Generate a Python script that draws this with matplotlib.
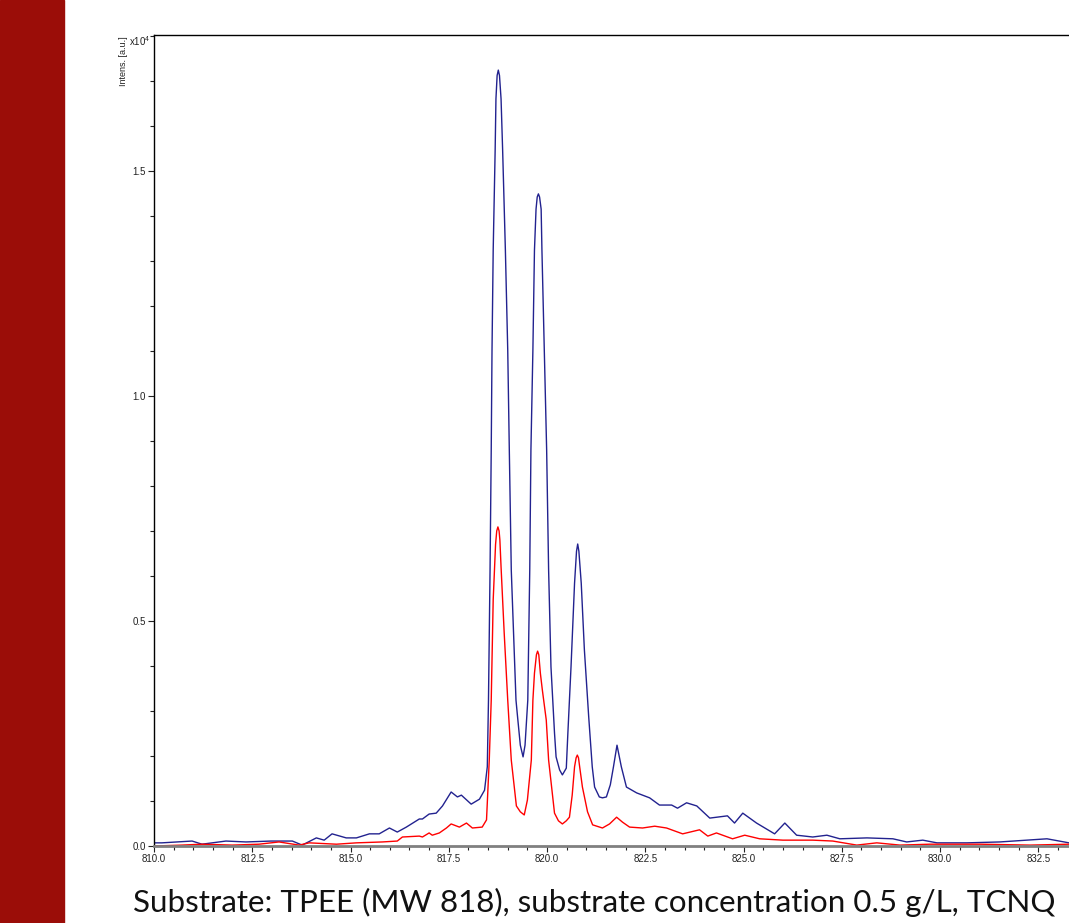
import matplotlib
matplotlib.use('Agg')
import matplotlib.pyplot as plt
from matplotlib.patches import Rectangle
from matplotlib.ticker import MultipleLocator, FormatStrFormatter

plt.rcParams['font.family'] = ['Liberation Sans', 'DejaVu Sans']
plt.rcParams['mathtext.fontset'] = 'custom'
plt.rcParams['mathtext.rm'] = 'Liberation Sans'
plt.rcParams['mathtext.it'] = 'Liberation Sans'

# m/z and intensity (x10^4 a.u.)
mz_blue = [810.00, 810.20, 810.97, 811.22, 811.83, 812.34, 812.98, 813.52, 813.77, 814.13,
           814.33, 814.53, 814.89, 815.15, 815.48, 815.73, 815.99, 816.19, 816.42, 816.75,
           816.83, 817.00, 817.18, 817.34, 817.56, 817.72, 817.82, 818.07, 818.28, 818.41,
           818.48, 818.51, 818.55, 818.58, 818.60, 818.63, 818.68, 818.70, 818.73, 818.76,
           818.79, 818.83, 818.87, 818.94, 819.00, 819.04, 819.09, 819.21, 819.25, 819.32,
           819.39, 819.44, 819.51, 819.56, 819.59, 819.64, 819.68, 819.72, 819.75, 819.78,
           819.81, 819.85, 819.87, 819.93, 819.99, 820.04, 820.10, 820.19, 820.23, 820.32,
           820.39, 820.49, 820.53, 820.61, 820.70, 820.75, 820.78, 820.81, 820.87, 820.95,
           821.06, 821.15, 821.21, 821.33, 821.41, 821.51, 821.61, 821.69, 821.78, 821.89,
           822.02, 822.28, 822.61, 822.86, 823.17, 823.32, 823.55, 823.81, 824.14, 824.59,
           824.77, 824.98, 825.33, 825.79, 826.05, 826.35, 826.76, 827.12, 827.45, 828.14,
           828.80, 829.15, 829.56, 829.92, 830.68, 831.52, 832.72, 833.28]
int_blue = [0.007, 0.007, 0.011, 0.004, 0.011, 0.009, 0.011, 0.011, 0.002, 0.018,
            0.013, 0.027, 0.018, 0.018, 0.027, 0.027, 0.040, 0.031, 0.042, 0.060,
            0.060, 0.071, 0.073, 0.089, 0.120, 0.109, 0.113, 0.093, 0.104, 0.124,
            0.176, 0.324, 0.613, 0.880, 1.102, 1.324, 1.547, 1.660, 1.712, 1.724,
            1.712, 1.660, 1.547, 1.324, 1.102, 0.880, 0.613, 0.324, 0.287, 0.224,
            0.198, 0.224, 0.324, 0.613, 0.880, 1.102, 1.324, 1.415, 1.442, 1.449,
            1.442, 1.415, 1.324, 1.102, 0.880, 0.613, 0.398, 0.251, 0.198, 0.169,
            0.158, 0.173, 0.251, 0.398, 0.584, 0.655, 0.671, 0.655, 0.584, 0.436,
            0.287, 0.176, 0.131, 0.109, 0.107, 0.109, 0.136, 0.176, 0.224, 0.176,
            0.131, 0.118, 0.107, 0.091, 0.091, 0.084, 0.096, 0.089, 0.062, 0.067,
            0.051, 0.073, 0.051, 0.027, 0.051, 0.024, 0.020, 0.024, 0.016, 0.018,
            0.016, 0.009, 0.013, 0.007, 0.007, 0.009, 0.016, 0.007]

mz_red = [810.00, 810.71, 811.22, 811.99, 812.67, 813.18, 813.69, 813.95, 814.64, 815.15,
          815.81, 816.19, 816.32, 816.75, 816.83, 817.00, 817.08, 817.26, 817.44, 817.56,
          817.77, 817.95, 818.10, 818.35, 818.46, 818.53, 818.58, 818.63, 818.69, 818.72,
          818.75, 818.78, 818.80, 818.83, 818.91, 819.00, 819.09, 819.22, 819.32, 819.42,
          819.50, 819.60, 819.64, 819.68, 819.73, 819.76, 819.79, 819.83, 819.88, 819.98,
          820.04, 820.11, 820.19, 820.29, 820.39, 820.49, 820.57, 820.64, 820.70, 820.74,
          820.77, 820.80, 820.83, 820.90, 821.03, 821.16, 821.41, 821.59, 821.77, 821.92,
          822.10, 822.43, 822.74, 823.04, 823.45, 823.88, 824.09, 824.31, 824.72, 825.03,
          825.41, 826.00, 826.76, 827.27, 827.88, 828.39, 828.98, 829.74, 831.01, 832.29,
          833.28]
int_red = [0.000, 0.002, 0.004, 0.002, 0.004, 0.009, 0.002, 0.007, 0.004, 0.007,
           0.009, 0.011, 0.020, 0.022, 0.020, 0.029, 0.024, 0.029, 0.040, 0.049,
           0.042, 0.051, 0.040, 0.042, 0.058, 0.191, 0.324, 0.547, 0.670, 0.700,
           0.709, 0.700, 0.680, 0.620, 0.473, 0.324, 0.191, 0.089, 0.076, 0.069,
           0.102, 0.191, 0.324, 0.384, 0.425, 0.433, 0.425, 0.384, 0.347, 0.280,
           0.191, 0.136, 0.073, 0.056, 0.049, 0.056, 0.064, 0.113, 0.176, 0.196,
           0.202, 0.196, 0.176, 0.131, 0.076, 0.047, 0.040, 0.049, 0.064, 0.053,
           0.042, 0.040, 0.044, 0.040, 0.027, 0.036, 0.022, 0.029, 0.016, 0.024,
           0.016, 0.013, 0.013, 0.011, 0.002, 0.007, 0.002, 0.004, 0.004, 0.002,
           0.004]

caption = "Substrate: TPEE (MW 818), substrate concentration 0.5 g/L, TCNQ"

fig = plt.figure(figsize=(10.69, 9.23), dpi=100)

# dark red band on the left of the slide
fig.patches.append(Rectangle((0, 0), 64 / 1069, 1, transform=fig.transFigure,
                             color='#9b0d08', zorder=0))

ax = fig.add_axes([154 / 1069, 77 / 923, 1 - 154 / 1069, 811 / 923])
ax.plot(mz_blue, int_blue, color='#22228f', lw=1.0)
ax.plot(mz_red, int_red, color='#ff0000', lw=1.0)

ax.set_xlim(810, 833.28)
ax.set_ylim(0, 1.802)

ax.xaxis.set_major_locator(MultipleLocator(2.5))
ax.xaxis.set_minor_locator(MultipleLocator(0.5))
ax.yaxis.set_major_locator(MultipleLocator(0.5))
ax.yaxis.set_minor_locator(MultipleLocator(0.1))
ax.xaxis.set_major_formatter(FormatStrFormatter('%.1f'))
ax.yaxis.set_major_formatter(FormatStrFormatter('%.1f'))

ax.tick_params(which='both', direction='out', labelsize=7, colors='#222222', pad=2)
ax.tick_params(which='major', length=4, width=0.8)
ax.tick_params(which='minor', length=3, width=0.8)

ax.spines['right'].set_visible(False)
ax.spines['top'].set_linewidth(1.0)
ax.spines['left'].set_linewidth(1.0)
ax.spines['bottom'].set_color('#808080')
ax.spines['bottom'].set_linewidth(2.0)

fig.text(124 / 1069, 1 - 36 / 923, 'Intens. [a.u.]', rotation=90, fontsize=6.5,
         ha='center', va='top', color='#222222')
fig.text(150 / 1069, 1 - 46 / 923, r'x10$^{4}$', fontsize=7, ha='right',
         va='baseline', color='#222222')

fig.text(133 / 1069, 1 - 912 / 923, caption, fontsize=22.6, family=['Lato', 'DejaVu Sans'],
         ha='left', va='baseline', color='#111111')

fig.savefig('out.png', dpi=100)
